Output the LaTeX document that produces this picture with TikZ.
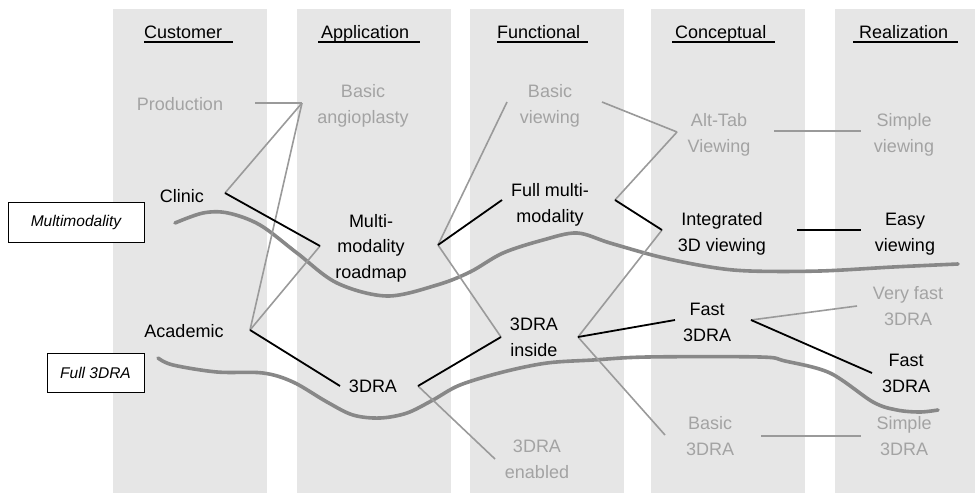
\documentclass[tikz,border=0pt]{standalone}
\usepackage{fontspec}
\setmainfont{Liberation Sans}
\definecolor{colbg}{HTML}{E6E6E6}
\definecolor{dimtext}{HTML}{A3A3A3}
\definecolor{linegray}{HTML}{9A9A9A}
\definecolor{trackgray}{HTML}{888888}
% line break that keeps every line of a label at the same height
\newcommand\lnbr{\\\strut}
\begin{document}
\begin{tikzpicture}[x=1pt,y=-1pt,
  colband/.style={fill=colbg, draw=none},
  hdr/.style={font=\fontsize{18}{25}\selectfont, inner sep=0pt, anchor=base west},
  uline/.style={draw=black, line width=1.2pt},
  lbl/.style={font=\fontsize{18}{25.5}\selectfont, align=center, inner sep=0pt},
  dim/.style={lbl, text=dimtext},
  tag/.style={draw=black, line width=0.8pt, fill=white,
              font=\fontsize{15.5}{18}\selectfont\itshape, inner sep=0pt},
  on/.style={draw=black, line width=1.8pt},
  off/.style={draw=linegray, line width=1.6pt},
  track/.style={draw=trackgray, line width=3.6pt, line cap=round, line join=round}
]
\useasboundingbox (0,0) rectangle (977,493);

% column bands
\fill[colband] (113,9) rectangle (267,493);
\fill[colband] (297,9) rectangle (451,493);
\fill[colband] (470,9) rectangle (624,493);
\fill[colband] (651,9) rectangle (805,493);
\fill[colband] (835,9) rectangle (975,493);

% column headings
\node[hdr] (h1) at (144,38) {Customer};
\node[hdr] (h2) at (321,38) {Application};
\node[hdr] (h3) at (497,38) {Functional};
\node[hdr] (h4) at (675,38) {Conceptual};
\node[hdr] (h5) at (859,38) {Realization};
\draw[uline] ([yshift=-4pt]h1.base west) ++(0,0) -- ++(89,0);
\draw[uline] ([yshift=-4pt]h2.base west) ++(-3,0) -- ++(102,0);
\draw[uline] ([yshift=-4pt]h3.base west) ++(0,0) -- ++(91,0);
\draw[uline] ([yshift=-4pt]h4.base west) ++(-3,0) -- ++(103,0);
\draw[uline] ([yshift=-4pt]h5.base west) ++(-6,0) -- ++(105,0);

% scenario tracks
\draw[track] plot[smooth, tension=0.55] coordinates {
  (175,223) (203,213) (228,213) (260,225) (297,253) (337,283) (387,296)
  (437,285) (470,272) (503,253) (543,240) (577,233) (610,243) (660,257)
  (710,267) (750,271) (820,271) (893,267) (958,264)};
\draw[track] plot[smooth, tension=0.55] coordinates {
  (158,358) (173,365) (217,372) (263,373) (293,382) (327,402) (353,415)
  (380,418) (407,413) (433,400) (460,385) (503,372) (547,363) (593,360)
  (647,357) (760,357) (785,361) (830,373) (873,402) (897,410) (920,412)
  (938,410)};

% scenario tags
\node[tag, minimum width=136pt, minimum height=40pt] (tagmm) at (76,222) {Multimodality};
\node[tag, minimum width=97pt, minimum height=39pt] (tag3d) at (95.5,372.5) {Full 3DRA};

% customer
\node[dim] (prod) at (180,105) {\strut Production};
\node[lbl] (clin) at (182,197) {\strut Clinic};
\node[lbl] (acad) at (184,332) {\strut Academic};
% application
\node[dim] (ang)  at (363,105.5) {\strut Basic\lnbr angioplasty};
\node[lbl] (road) at (371,247.5) {\strut Multi-\lnbr modality\lnbr roadmap};
\node[lbl] (dra)  at (373,387) {\strut 3DRA};
% functional
\node[dim] (bview) at (550,105.5) {\strut Basic\lnbr viewing};
\node[lbl] (fmm)   at (550,204.5) {\strut Full multi-\lnbr modality};
\node[lbl] (ins)   at (534,338.5) {\strut 3DRA\lnbr inside};
\node[dim] (ena)   at (537,460.5) {\strut 3DRA\lnbr enabled};
% conceptual
\node[dim] (alt)   at (719,134.5) {\strut Alt-Tab\lnbr Viewing};
\node[lbl] (integ) at (722,233.5) {\strut Integrated\lnbr 3D viewing};
\node[lbl] (fc)    at (707,323.5) {\strut Fast\lnbr 3DRA};
\node[dim] (bdra)  at (710,437.5) {\strut Basic\lnbr 3DRA};
% realization
\node[dim] (sview) at (904,134.5) {\strut Simple\lnbr viewing};
\node[lbl] (easy)  at (905,233.5) {\strut Easy\lnbr viewing};
\node[dim] (vf)    at (908,307.5) {\strut Very fast\lnbr 3DRA};
\node[lbl] (fr)    at (906,374.5) {\strut Fast\lnbr 3DRA};
\node[dim] (sdra)  at (904,437.5) {\strut Simple\lnbr 3DRA};

% connection points beside the labels
\coordinate (prod-r)  at (255,103);
\coordinate (clin-r)  at (225,193);
\coordinate (acad-r)  at (250,330);
\coordinate (ang-l)   at (302,103);
\coordinate (road-l)  at (320,246);
\coordinate (road-r)  at (438,245);
\coordinate (dra-l)   at (340,386);
\coordinate (dra-r)   at (418,386);
\coordinate (bview-l) at (507,102);
\coordinate (bview-r) at (602,102);
\coordinate (fmm-l)   at (502,200);
\coordinate (fmm-r)   at (615,200);
\coordinate (ins-l)   at (501,337);
\coordinate (ins-r)   at (578,337);
\coordinate (ena-l)   at (495,459);
\coordinate (alt-l)   at (677,132);
\coordinate (alt-r)   at (774,131);
\coordinate (integ-l) at (662,230);
\coordinate (integ-r) at (797,230);
\coordinate (fc-l)    at (675,320);
\coordinate (fc-r)    at (751,320);
\coordinate (bdra-l)  at (665,435);
\coordinate (bdra-r)  at (761,436);
\coordinate (sview-l) at (861,131);
\coordinate (easy-l)  at (861,230);
\coordinate (vf-l)    at (857,306);
\coordinate (fr-l)    at (872,373);
\coordinate (sdra-l)  at (861,436);

% inactive links
\draw[off] (prod-r) -- (ang-l);
\draw[off] (clin-r) -- (ang-l);
\draw[off] (acad-r) -- (ang-l);
\draw[off] (acad-r) -- (road-l);
\draw[off] (road-r) -- (bview-l);
\draw[off] (road-r) -- (ins-l);
\draw[off] (dra-r) -- (ena-l);
\draw[off] (bview-r) -- (alt-l);
\draw[off] (fmm-r) -- (alt-l);
\draw[off] (ins-r) -- (integ-l);
\draw[off] (ins-r) -- (bdra-l);
\draw[off] (alt-r) -- (sview-l);
\draw[off] (fc-r) -- (vf-l);
\draw[off] (bdra-r) -- (sdra-l);

% active links
\draw[on] (clin-r) -- (road-l);
\draw[on] (acad-r) -- (dra-l);
\draw[on] (road-r) -- (fmm-l);
\draw[on] (dra-r) -- (ins-l);
\draw[on] (fmm-r) -- (integ-l);
\draw[on] (ins-r) -- (fc-l);
\draw[on] (integ-r) -- (easy-l);
\draw[on] (fc-r) -- (fr-l);
\end{tikzpicture}
\end{document}
